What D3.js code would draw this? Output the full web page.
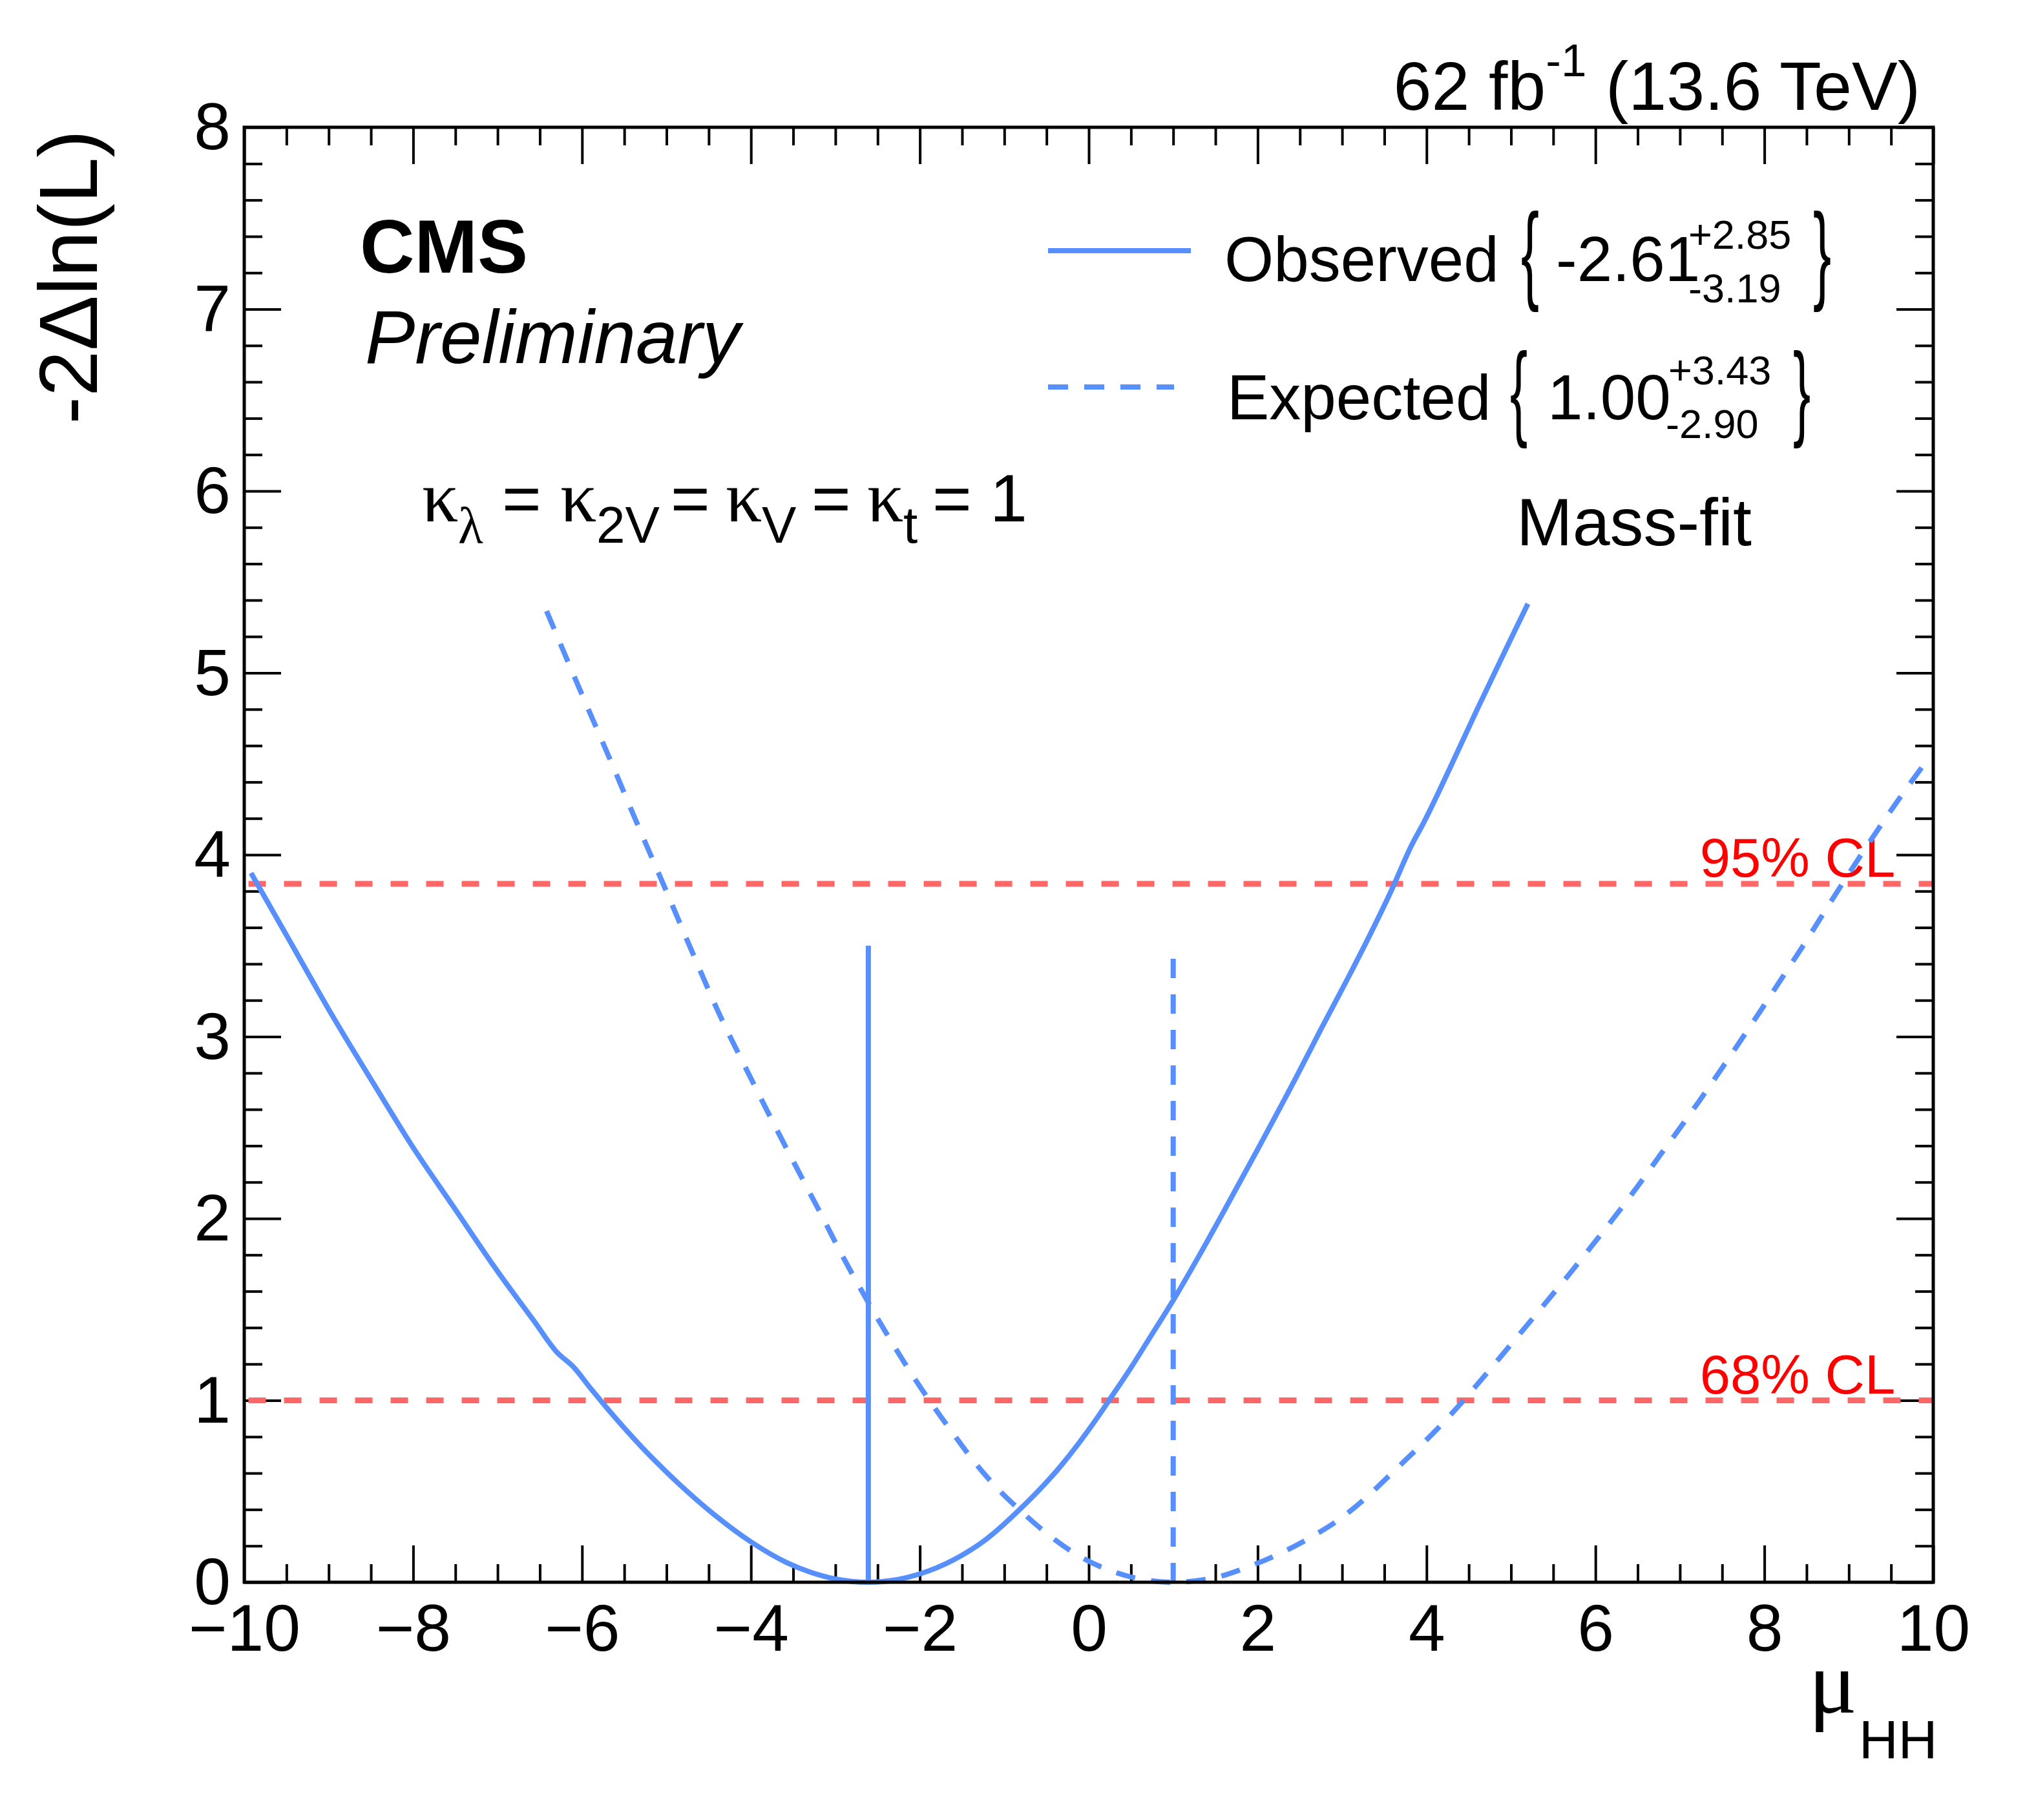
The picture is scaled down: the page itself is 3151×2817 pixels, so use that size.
<!DOCTYPE html>
<html>
<head>
<meta charset="utf-8">
<script src="https://cdn.jsdelivr.net/npm/d3@7"></script>
<style>
  html, body { margin: 0; padding: 0; background: #ffffff; }
  svg { display: block; }
  text { font-family: "Liberation Sans", Arial, Helvetica, sans-serif; fill: #000; }
</style>
</head>
<body>
<svg id="chart" width="3151" height="2817"></svg>
<script>
// ---------------- data ----------------
const obsMu   = [-9.92, -9.49, -8.95, -8.46, -7.99, -7.52, -7.00, -6.57, -6.30, -6.10, -5.89, -5.72,
                 -5.29, -4.86, -4.43, -4.00, -3.58, -3.30, -2.99, -2.61, -2.26, -2.00, -1.61, -1.19,
                 -0.84, -0.33, 0.10, 0.24, 0.50, 0.75, 1.00, 1.30, 1.60, 2.00, 2.46, 2.76, 3.10,
                 3.33, 3.58, 3.82, 3.97, 4.27, 4.61, 4.96, 5.20];
const obsDnll = [3.90, 3.55, 3.11, 2.735, 2.383, 2.063, 1.709, 1.437, 1.266, 1.183, 1.061, 0.966,
                 0.742, 0.544, 0.370, 0.222, 0.109, 0.056, 0.017, 0.0, 0.015, 0.046, 0.121, 0.245,
                 0.39, 0.64, 0.904, 1.00, 1.18, 1.365, 1.55, 1.79, 2.04, 2.38, 2.78, 3.05, 3.35,
                 3.56, 3.80, 4.05, 4.18, 4.47, 4.81, 5.15, 5.38];

const expMu   = [-6.42, -6.00, -5.72, -5.30, -5.03, -4.70, -4.40, -4.00, -3.74, -3.37, -3.20, -2.90,
                 -2.60, -2.32, -2.09, -1.85, -1.61, -1.36, -1.08, -0.80, -0.48, -0.11, 0.25, 0.68,
                 1.00, 1.33, 1.52, 1.86, 2.25, 2.64, 2.98, 3.32, 3.50, 3.78, 4.10, 4.40, 4.66, 4.94,
                 5.22, 5.47, 5.77, 6.00, 6.27, 6.52, 6.76, 7.02, 7.25, 7.51, 7.75, 7.98, 8.24, 8.48,
                 8.71, 8.95, 9.16, 9.42, 9.66, 9.88];
const expDnll = [5.34, 4.88, 4.58, 4.12, 3.83, 3.47, 3.15, 2.77, 2.53, 2.20, 2.05, 1.78,
                 1.53, 1.31, 1.14, 0.975, 0.82, 0.665, 0.515, 0.39, 0.262, 0.143, 0.065, 0.012,
                 0.0, 0.012, 0.028, 0.08, 0.155, 0.25, 0.35, 0.48, 0.56, 0.685, 0.83, 0.98, 1.12, 1.275,
                 1.43, 1.57, 1.74, 1.875, 2.035, 2.19, 2.345, 2.51, 2.66, 2.835, 3.00, 3.16, 3.345, 3.515,
                 3.685, 3.86, 4.01, 4.19, 4.35, 4.49];

const bestFit     = [-2.61, 1.00];      // observed, expected best-fit mu
const bestFitTop  = [3.50, 3.46];       // height of the vertical marker lines
const clValues    = [1.0, 3.84];
const clLabels    = ["68% CL", "95% CL"];

const xMajorTicks  = [-10, -8, -6, -4, -2, 0, 2, 4, 6, 8, 10];
const xTickLabels  = ["\u221210", "\u22128", "\u22126", "\u22124", "\u22122", "0", "2", "4", "6", "8", "10"];
const yMajorTicks  = [0, 1, 2, 3, 4, 5, 6, 7, 8];
const yTickLabels  = ["0", "1", "2", "3", "4", "5", "6", "7", "8"];

const legendNames = ["Observed", "Expected"];
const legendBest  = ["-2.61", "1.00"];
const legendUp    = ["+2.85", "+3.43"];
const legendDown  = ["-3.19", "-2.90"];

// ---------------- layout ----------------
const svg = d3.select("#chart");
const L = 378, R = 2992, T = 197, B = 2449;
const x = d3.scaleLinear().domain([-10, 10]).range([L, R]);
const y = d3.scaleLinear().domain([0, 8]).range([B, T]);

const BLUE = "#5790fc";
const RED_LINE = "#ff6666";
const RED_TEXT = "#ff0000";
const SERIF = '"Liberation Serif", "DejaVu Serif", serif';

svg.append("rect").attr("width", 3151).attr("height", 2817).attr("fill", "#fff");

const xMinor = d3.range(-10, 10.001, 0.5).filter(v => Math.abs(v / 2 - Math.round(v / 2)) > 1e-6);
const yMinor = d3.range(0, 8.001, 0.2).map(v => +v.toFixed(1)).filter(v => Math.abs(v - Math.round(v)) > 1e-6);

const MAJ = 57, MIN = 28;

function styleAxis(g) {
  g.select(".domain").remove();
  g.selectAll(".tick line").attr("stroke", "#000").attr("stroke-width", 4);
}

// bottom
svg.append("g").attr("transform", `translate(0,${B})`)
  .call(d3.axisBottom(x).tickValues(xMajorTicks).tickSize(-MAJ).tickPadding(34)
        .tickFormat((d, i) => xTickLabels[i]))
  .call(styleAxis)
  .call(g => g.selectAll("text").attr("font-size", 102).attr("fill", "#000")
        .style("font-family", '"Liberation Sans", Arial, sans-serif'));
svg.append("g").attr("transform", `translate(0,${B})`)
  .call(d3.axisBottom(x).tickValues(xMinor).tickSize(-MIN).tickFormat(""))
  .call(styleAxis);
// top
svg.append("g").attr("transform", `translate(0,${T})`)
  .call(d3.axisTop(x).tickValues(xMajorTicks).tickSize(-MAJ).tickFormat(""))
  .call(styleAxis);
svg.append("g").attr("transform", `translate(0,${T})`)
  .call(d3.axisTop(x).tickValues(xMinor).tickSize(-MIN).tickFormat(""))
  .call(styleAxis);
// left
svg.append("g").attr("transform", `translate(${L},0)`)
  .call(d3.axisLeft(y).tickValues(yMajorTicks).tickSize(-MAJ).tickPadding(21)
        .tickFormat((d, i) => yTickLabels[i]))
  .call(styleAxis)
  .call(g => g.selectAll("text").attr("font-size", 102).attr("fill", "#000").attr("dy", "0.33em")
        .style("font-family", '"Liberation Sans", Arial, sans-serif'));
svg.append("g").attr("transform", `translate(${L},0)`)
  .call(d3.axisLeft(y).tickValues(yMinor).tickSize(-MIN).tickFormat(""))
  .call(styleAxis);
// right
svg.append("g").attr("transform", `translate(${R},0)`)
  .call(d3.axisRight(y).tickValues(yMajorTicks).tickSize(-MAJ).tickFormat(""))
  .call(styleAxis);
svg.append("g").attr("transform", `translate(${R},0)`)
  .call(d3.axisRight(y).tickValues(yMinor).tickSize(-MIN).tickFormat(""))
  .call(styleAxis);

// ---------------- CL lines ----------------
svg.append("g").selectAll("line").data(clValues).join("line")
  .attr("x1", x(-9.95)).attr("x2", x(10))
  .attr("y1", d => y(d)).attr("y2", d => y(d))
  .attr("stroke", RED_LINE).attr("stroke-width", 9).attr("stroke-dasharray", "27,28");
svg.append("g").selectAll("text").data(clValues).join("text")
  .attr("x", x(9.55)).attr("y", d => y(d) - 11)
  .attr("text-anchor", "end").attr("font-size", 85)
  .style("fill", RED_TEXT)
  .text((d, i) => clLabels[i]);

// ---------------- curves ----------------
const line = d3.line().x(d => x(d[0])).y(d => y(d[1])).curve(d3.curveMonotoneX);

svg.append("path").datum(d3.zip(expMu, expDnll))
  .attr("d", line).attr("fill", "none")
  .attr("stroke", BLUE).attr("stroke-width", 8).attr("stroke-dasharray", "30,25");

svg.append("path").datum(d3.zip(obsMu, obsDnll))
  .attr("d", line).attr("fill", "none")
  .attr("stroke", BLUE).attr("stroke-width", 8);

// best-fit vertical markers
svg.append("g").selectAll("line").data(bestFit).join("line")
  .attr("x1", d => x(d)).attr("x2", d => x(d))
  .attr("y1", y(0)).attr("y2", (d, i) => y(bestFitTop[i]))
  .attr("stroke", BLUE).attr("stroke-width", 8)
  .attr("stroke-dasharray", (d, i) => i === 0 ? null : "30,25");

// frame
svg.append("rect").attr("x", L).attr("y", T).attr("width", R - L).attr("height", B - T)
  .attr("fill", "none").attr("stroke", "#000").attr("stroke-width", 5);

// ---------------- axis titles ----------------
const yt = svg.append("text")
  .attr("transform", "translate(150,201) rotate(-90)")
  .attr("text-anchor", "end").attr("font-size", 128);
yt.append("tspan").text("-2");
yt.append("tspan").text("\u0394");
yt.append("tspan").text("ln(L)");

const xt = svg.append("text").attr("x", 2799).attr("y", 2651).attr("font-size", 140);
xt.append("tspan").style("font-family", SERIF).text("\u03bc");
xt.append("tspan").attr("x", 2877).attr("y", 2722).attr("font-size", 84).text("HH");

// ---------------- top-right lumi label ----------------
const lumi = svg.append("text").attr("x", 2972).attr("y", 170)
  .attr("text-anchor", "end").attr("font-size", 106);
lumi.append("tspan").text("62 fb");
lumi.append("tspan").attr("font-size", 71).attr("dy", -52).text("-1");
lumi.append("tspan").attr("dy", 52).text(" (13.6 TeV)");

// ---------------- CMS / Preliminary ----------------
svg.append("text").attr("x", 557).attr("y", 422).attr("font-size", 117)
  .attr("font-weight", "bold").text("CMS");
svg.append("text").attr("x", 565).attr("y", 562).attr("font-size", 116)
  .attr("font-style", "italic").text("Preliminary");

// ---------------- coupling text (one text element, tspans) ----------------
const kappaSegs = [
  { x: 653,  t: "\u03ba", f: 112, b: 807, serif: true },
  { x: 709,  t: "\u03bb", f: 80,  b: 841, serif: true },
  { x: 777,  t: "=",      f: 104, b: 807 },
  { x: 867,  t: "\u03ba", f: 112, b: 807, serif: true },
  { x: 923,  t: "2V",     f: 80,  b: 840 },
  { x: 1038, t: "=",      f: 104, b: 807 },
  { x: 1123, t: "\u03ba", f: 112, b: 807, serif: true },
  { x: 1179, t: "V",      f: 80,  b: 840 },
  { x: 1256, t: "=",      f: 104, b: 807 },
  { x: 1342, t: "\u03ba", f: 112, b: 807, serif: true },
  { x: 1398, t: "t",      f: 80,  b: 840 },
  { x: 1443, t: "=",      f: 104, b: 807 },
  { x: 1532, t: "1",      f: 104, b: 807 }
];
const kt = svg.append("text").attr("x", 653).attr("y", 807).attr("font-size", 104);
kappaSegs.forEach(s => {
  const sp = kt.append("tspan").attr("x", s.x).attr("y", s.b).attr("font-size", s.f).text(s.t);
  if (s.serif) sp.style("font-family", SERIF);
});

// ---------------- Mass-fit ----------------
svg.append("text").attr("x", 2347).attr("y", 844).attr("font-size", 104).text("Mass-fit");

// ---------------- legend ----------------
const legRows = [
  { ly: 388, lx2: 1843, dash: null,    tx: 1895, base: 435, bx: 2354, bTop: 325, bBot: 483,
    vx: 2408, sx: 2613, subx: 2613, supB: 385, subB: 468, cx: 2806 },
  { ly: 599, lx2: 1817, dash: "31,25", tx: 1899, base: 649, bx: 2337, bTop: 541, bBot: 694,
    vx: 2395, sx: 2582, subx: 2578, supB: 595, subB: 678, cx: 2775 }
];
legRows.forEach((r, i) => {
  svg.append("line").attr("x1", 1622).attr("x2", r.lx2).attr("y1", r.ly).attr("y2", r.ly)
    .attr("stroke", BLUE).attr("stroke-width", 8).attr("stroke-dasharray", r.dash);
  svg.append("text").attr("x", r.tx).attr("y", r.base).attr("font-size", 98).text(legendNames[i]);
  const bh = r.bBot - r.bTop;
  const bf = bh / 0.94;
  const bb = r.bBot - 0.21 * bf;
  svg.append("text").attr("transform", `translate(${r.bx},${bb}) scale(0.5,1)`)
    .attr("font-size", bf).text("{");
  const v = svg.append("text").attr("x", r.vx).attr("y", r.base).attr("font-size", 98);
  v.append("tspan").text(legendBest[i]);
  v.append("tspan").attr("x", r.sx).attr("y", r.supB).attr("font-size", 63).text(legendUp[i]);
  v.append("tspan").attr("x", r.subx).attr("y", r.subB).attr("font-size", 63).text(legendDown[i]);
  svg.append("text").attr("transform", `translate(${r.cx},${bb}) scale(0.5,1)`)
    .attr("font-size", bf).text("}");
});
</script>
</body>
</html>
